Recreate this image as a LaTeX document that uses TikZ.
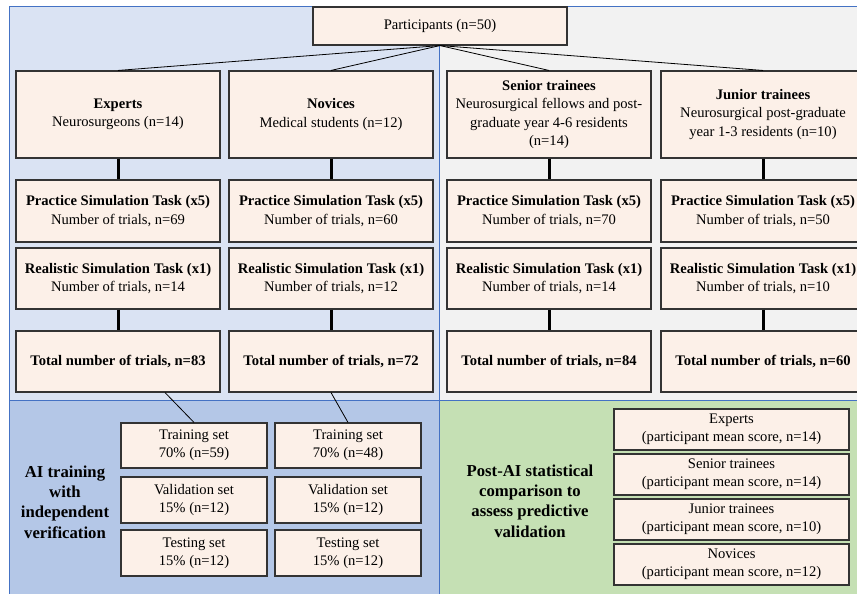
\documentclass[tikz,border=0pt]{standalone}
\usepackage{fontspec}
\setmainfont{Liberation Serif}
\definecolor{boxfill}{HTML}{FCF0E8}
\definecolor{bgblue}{HTML}{DAE3F3}
\definecolor{bggray}{HTML}{F2F2F2}
\definecolor{bgblue2}{HTML}{B4C7E7}
\definecolor{bggreen}{HTML}{C5E0B4}
\definecolor{panelline}{HTML}{4472C4}
\begin{document}
\begin{tikzpicture}[x=1pt,y=-1pt,
  fbox/.style={draw=black!80, fill=boxfill, line width=1.1pt, align=center, inner sep=0pt,
    font=\fontsize{14.6}{18.3}\selectfont},
  grp/.style={fbox, minimum width=204pt, minimum height=87pt},
  task/.style={fbox, minimum width=204pt, minimum height=61pt},
  setbox/.style={fbox, minimum width=146pt, minimum height=45pt},
  scorebox/.style={fbox, minimum width=235pt, minimum height=41pt},
  thin/.style={line width=0.8pt, black},
  thick/.style={line width=3pt, black},
  biglabel/.style={align=center, font=\fontsize{16.7}{20.3}\selectfont\bfseries},
  panel/.style={line width=1pt, panelline}]
\useasboundingbox (0,0) rectangle (857,594);
% panels
\fill[bgblue] (9,7) rectangle (439,400);
\fill[bggray] (439,7) rectangle (857,400);
\fill[bgblue2] (9,400) rectangle (439,594);
\fill[bggreen] (439,400) rectangle (857,594);
\draw[panel] (9,594) -- (9,7) -- (857,7);
\draw[panel] (439,7) -- (439,594);
\draw[panel] (9,400) -- (857,400);
% top
\node[fbox, minimum width=254pt, minimum height=38pt] (P) at (440,26) {Participants (n=50)};
\node[grp] (E) at (118,114.5) {\textbf{Experts}\\Neurosurgeons (n=14)};
\node[grp] (N) at (331,114.5) {\textbf{Novices}\\Medical students (n=12)};
\node[grp] (S) at (549,114.5) {\textbf{Senior trainees}\\Neurosurgical fellows and post-\\graduate year 4-6 residents\\(n=14)};
\node[grp] (J) at (763,114.5) {\textbf{Junior trainees}\\Neurosurgical post-graduate\\year 1-3 residents (n=10)};
\foreach \g in {E,N,S,J} \draw[thin] (P.south) -- (\g.north);
% task rows
\foreach \g/\x/\a/\b/\t in {E/118/69/14/83, N/331/60/12/72, S/549/70/14/84, J/763/50/10/60}{
  \node[task, minimum height=62pt] (\g pr) at (\x,211) {\textbf{Practice Simulation Task (x5)}\\Number of trials, n=\a};
  \node[task] (\g re) at (\x,278.5) {\textbf{Realistic Simulation Task (x1)}\\Number of trials, n=\b};
  \node[task] (\g to) at (\x,361.5) {\textbf{Total number of trials, n=\t}};
  \draw[thick] (\g.south) -- (\g pr.north);
  \draw[thick] (\g re.south) -- (\g to.north);
}
% AI training sets
\node[setbox] (Etr) at (194,445.5) {Training set\\70\% (n=59)};
\node[setbox, minimum height=46pt] (Eva) at (194,500) {Validation set\\15\% (n=12)};
\node[setbox, minimum height=46pt] (Ete) at (194,553) {Testing set\\15\% (n=12)};
\node[setbox] (Ntr) at (348,445.5) {Training set\\70\% (n=48)};
\node[setbox, minimum height=46pt] (Nva) at (348,500) {Validation set\\15\% (n=12)};
\node[setbox, minimum height=46pt] (Nte) at (348,553) {Testing set\\15\% (n=12)};
\draw[thin] ([xshift=47pt]Eto.south) -- (Etr.north);
\draw[thin] (Nto.south) -- (Ntr.north);
\node[biglabel] (ai) at (65,502) {AI training\\with\\independent\\verification};
% post-AI
\node[scorebox] (pe) at (731.5,429.5) {Experts\\(participant mean score, n=14)};
\node[scorebox] (ps) at (731.5,474.5) {Senior trainees\\(participant mean score, n=14)};
\node[scorebox] (pj) at (731.5,519.5) {Junior trainees\\(participant mean score, n=10)};
\node[scorebox] (pn) at (731.5,564.5) {Novices\\(participant mean score, n=12)};
\node[biglabel] (post) at (530,501) {Post-AI statistical\\comparison to\\assess predictive\\validation};
\end{tikzpicture}
\end{document}
